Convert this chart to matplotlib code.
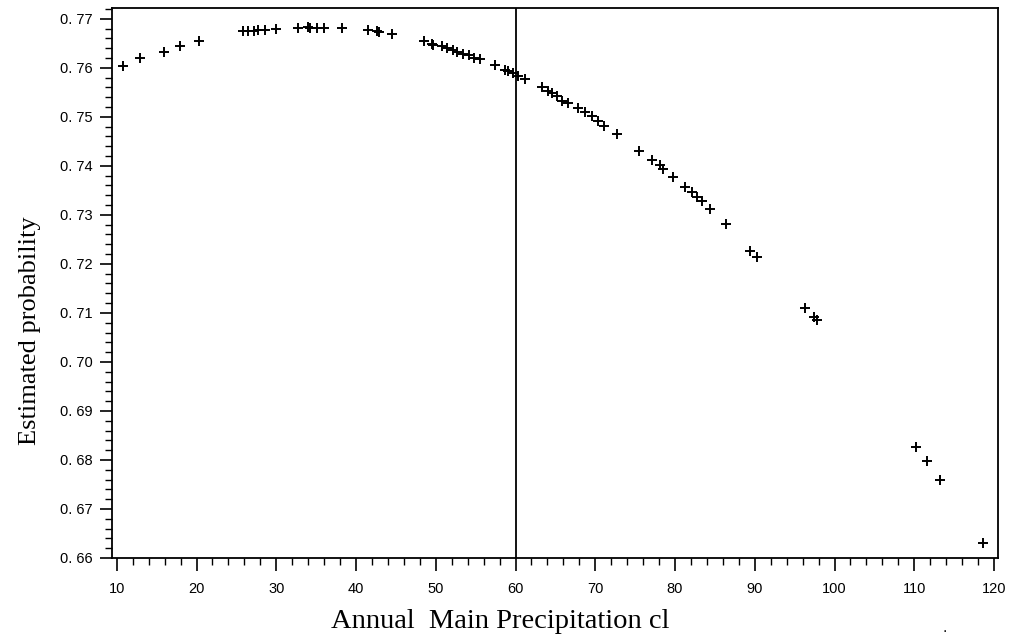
import numpy as np
import matplotlib.pyplot as plt
from matplotlib.ticker import MultipleLocator, FuncFormatter

# precipitation (x) and estimated probability (y)
precip = [10.79, 12.97, 15.90, 17.90, 20.29, 25.77, 26.47, 27.23, 27.73, 28.57,
          29.95, 32.75, 34.00, 34.22, 35.13, 35.97, 38.19, 41.53, 42.58, 42.91,
          44.54, 48.52, 49.49, 49.69, 50.74, 51.44, 52.12, 52.62, 53.45, 54.20,
          54.79, 55.55, 57.43, 58.68, 59.10, 59.72, 60.35, 61.19, 63.29, 64.12,
          64.54, 65.17, 65.80, 66.63, 67.88, 68.72, 69.56, 70.39, 71.10, 72.77,
          75.53, 77.09, 78.13, 78.55, 79.80, 81.27, 82.11, 82.74, 83.36, 84.40,
          86.41, 89.42, 90.26, 96.32, 97.37, 97.79, 110.25, 111.59, 113.17, 118.62]
prob = [0.7603, 0.7619, 0.7633, 0.7645, 0.7655, 0.7675, 0.7675, 0.7676, 0.7677, 0.7678,
        0.7679, 0.7682, 0.7683, 0.7681, 0.7682, 0.7682, 0.7681, 0.7677, 0.7676, 0.7673,
        0.7669, 0.7654, 0.7648, 0.7646, 0.7644, 0.7640, 0.7637, 0.7633, 0.7628, 0.7626,
        0.7621, 0.7618, 0.7606, 0.7596, 0.7593, 0.7589, 0.7584, 0.7577, 0.7561, 0.7553,
        0.7548, 0.7543, 0.7533, 0.7528, 0.7519, 0.7509, 0.7502, 0.7492, 0.7482, 0.7464,
        0.7430, 0.7411, 0.7401, 0.7394, 0.7377, 0.7356, 0.7346, 0.7336, 0.7329, 0.7312,
        0.7282, 0.7227, 0.7214, 0.7109, 0.7092, 0.7085, 0.6827, 0.6798, 0.6760, 0.6631]
ref_line = 60

fig = plt.figure(figsize=(10.16, 6.37), dpi=100)
ax = fig.add_axes([112/1016, 1 - 558/637, 886/1016, 550/637])

ax.plot(precip, prob, linestyle='none', marker='+', color='black',
        markersize=7.5, markeredgewidth=1.4)
ax.axvline(ref_line, color='black', linewidth=1.3)

ax.set_xlim(9.4, 120.5)
ax.set_ylim(0.66, 0.7722)

ax.xaxis.set_major_locator(MultipleLocator(10))
ax.xaxis.set_minor_locator(MultipleLocator(2))
ax.yaxis.set_major_locator(MultipleLocator(0.01))
ax.yaxis.set_minor_locator(MultipleLocator(0.002))
ax.yaxis.set_major_formatter(FuncFormatter(lambda v, p: '0. %02d' % round(v * 100 % 100)))

ax.tick_params(which='major', length=9, width=1.2, labelsize=10.5, pad=5)
ax.tick_params(which='minor', length=5, width=1.0)
for lab in ax.get_xticklabels() + ax.get_yticklabels():
    lab.set_family('Liberation Sans')
ax.xaxis.set_tick_params(pad=8)

for s in ax.spines.values():
    s.set_linewidth(1.3)

ax.set_xlabel('Annual  Main Precipitation cl', family='Liberation Serif', fontsize=20.5)
ax.xaxis.set_label_coords((500 - 112) / 886, -0.093)
ax.set_ylabel('Estimated probability', family='Liberation Serif', fontsize=19)
ax.yaxis.set_label_coords(-0.08, 0.414)

fig.text(945/1016, 1 - 632/637, '.', fontsize=10, ha='center')

plt.savefig('out.png', dpi=100)
